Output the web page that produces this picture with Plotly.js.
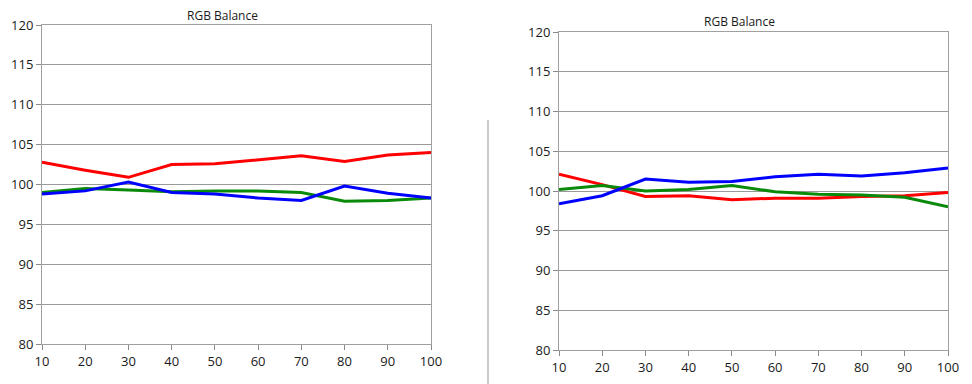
<!DOCTYPE html>
<html>
<head>
<meta charset="utf-8">
<script src="https://cdn.plot.ly/plotly-3.0.1.min.js"></script>
<style>html,body{margin:0;padding:0;background:#fff;}#chart{width:972px;height:384px;}</style>
</head>
<body>
<div id="chart"></div>
<script>
const levels = [10, 20, 30, 40, 50, 60, 70, 80, 90, 100];
const chartTitle = "RGB Balance";

// Left chart
const leftRed   = [102.8, 101.8, 100.9, 102.5, 102.6, 103.1, 103.6, 102.9, 103.7, 104.0];
const leftGreen = [99.0, 99.5, 99.3, 99.1, 99.2, 99.2, 99.0, 97.9, 98.0, 98.3];
const leftBlue  = [98.8, 99.2, 100.3, 99.0, 98.8, 98.3, 98.0, 99.8, 98.9, 98.3];

// Right chart
const rightRed   = [102.1, 100.8, 99.3, 99.4, 98.9, 99.1, 99.1, 99.3, 99.4, 99.8];
const rightGreen = [100.2, 100.7, 100.0, 100.2, 100.7, 99.9, 99.6, 99.5, 99.2, 98.0];
const rightBlue  = [98.4, 99.4, 101.5, 101.1, 101.2, 101.8, 102.1, 101.9, 102.3, 102.9];

const yTickVals = [80, 85, 90, 95, 100, 105, 110, 115, 120];

function line(x, y, color, xa, ya) {
  return {x: x, y: y, type: 'scatter', mode: 'lines', xaxis: xa, yaxis: ya,
          line: {color: color, width: 3}, hoverinfo: 'skip', showlegend: false};
}

const data = [
  line(levels, leftGreen, '#0a8a0a', 'x', 'y'),
  line(levels, leftBlue, '#0000ff', 'x', 'y'),
  line(levels, leftRed, '#ff0000', 'x', 'y'),
  line(levels, rightRed, '#ff0000', 'x2', 'y2'),
  line(levels, rightGreen, '#0a8a0a', 'x2', 'y2'),
  line(levels, rightBlue, '#0000ff', 'x2', 'y2')
];

const fontFam = 'Open Sans, Noto Sans, sans-serif';
const tickFont = {family: fontFam, size: 13, color: '#1a1a1a'};

function xAxis(domain, anchor) {
  return {domain: domain, anchor: anchor, range: [10, 100], tickvals: levels,
          ticktext: levels.map(String), ticks: 'outside', ticklen: 5, tickcolor: '#8a8a8a',
          showgrid: false, zeroline: false, showline: true, mirror: true,
          linecolor: '#a0a0a0', linewidth: 1, tickfont: tickFont, fixedrange: true};
}
function yAxis(domain, anchor) {
  return {domain: domain, anchor: anchor, range: [80, 120], tickvals: yTickVals,
          ticktext: yTickVals.map(String), ticks: 'outside', ticklen: 5, tickcolor: '#8a8a8a',
          showgrid: true, gridcolor: '#9a9a9a', gridwidth: 1, zeroline: false,
          showline: true, mirror: true, linecolor: '#a0a0a0', linewidth: 1,
          tickfont: tickFont, fixedrange: true};
}
function yOverlay(over, anchor) {
  return {overlaying: over, anchor: anchor, range: [80, 120], dtick: 10, tick0: 80,
          showticklabels: false, ticks: '', showgrid: true, gridcolor: '#c6c6c6',
          gridwidth: 1.5, zeroline: false, showline: false, fixedrange: true};
}

const layout = {
  width: 972, height: 384,
  margin: {l: 0, r: 0, t: 0, b: 0},
  paper_bgcolor: '#ffffff', plot_bgcolor: '#ffffff',
  xaxis: xAxis([42/972, 431/972], 'y'),
  yaxis: yAxis([1 - 344/384, 1 - 25/384], 'x'),
  xaxis2: xAxis([559/972, 948/972], 'y2'),
  yaxis2: yAxis([1 - 350/384, 1 - 32/384], 'x2'),
  yaxis3: yOverlay('y', 'x'),
  yaxis4: yOverlay('y2', 'x2'),
  annotations: [
    {text: chartTitle, xref: 'paper', yref: 'paper', x: 222.5/972, y: 1 - 15/384,
     xanchor: 'center', yanchor: 'middle', showarrow: false,
     font: {family: fontFam, size: 12, color: '#1a1a1a'}},
    {text: chartTitle, xref: 'paper', yref: 'paper', x: 739.5/972, y: 1 - 21/384,
     xanchor: 'center', yanchor: 'middle', showarrow: false,
     font: {family: fontFam, size: 12, color: '#1a1a1a'}}
  ],
  shapes: [
    {type: 'line', xref: 'paper', yref: 'paper', x0: 488/972, x1: 488/972, y0: 0, y1: 1 - 120/384,
     line: {color: '#b8b8b8', width: 1.5}}
  ]
};

Plotly.newPlot('chart', data, layout, {staticPlot: true, displayModeBar: false});
</script>
</body>
</html>
